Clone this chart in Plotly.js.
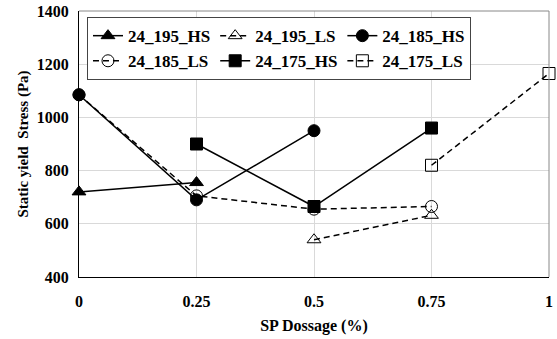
<!DOCTYPE html>
<html><head><meta charset="utf-8">
<script src="https://cdn.plot.ly/plotly-3.0.1.min.js"></script>
<style>html,body{margin:0;padding:0;background:#fff}#c{width:557px;height:339px}</style>
</head><body><div id="c"></div>
<script>
const names = ["24_195_HS","24_195_LS","24_185_HS","24_185_LS","24_175_HS","24_175_LS"];
const x195HS = [0, 0.25];           const y195HS = [720, 755];
const x195LS = [0.5, 0.75];         const y195LS = [540, 632];
const x185HS = [0, 0.25, 0.5];      const y185HS = [1085, 690, 950];
const x185LS = [0, 0.25, 0.5, 0.75];const y185LS = [1085, 705, 655, 665];
const x175HS = [0.25, 0.5, 0.75];   const y175HS = [900, 665, 960];
const x175LS = [0.75, 1];           const y175LS = [820, 1165];
const xTicks = [0, 0.25, 0.5, 0.75, 1];
const xTickLabels = ["0", "0.25", "0.5", "0.75", "1"];

function tr(x, y, name, symbol, dash) {
  return {x: x, y: y, name: name, type: "scatter", mode: "lines+markers",
    line: {color: "black", width: 1.5, dash: dash},
    marker: {symbol: symbol, size: 12, color: "black",
             line: {color: "black", width: 1}}, cliponaxis: false};
}
const DASH = "6px,4px";
const data = [
  tr(x195HS, y195HS, names[0], "triangle-up", "solid"),
  tr(x195LS, y195LS, names[1], "triangle-up-open", DASH),
  tr(x185HS, y185HS, names[2], "circle", "solid"),
  tr(x185LS, y185LS, names[3], "circle-open", DASH),
  tr(x175HS, y175HS, names[4], "square", "solid"),
  tr(x175LS, y175LS, names[5], "square-open", DASH)
];
const FAM = "Liberation Serif";
const layout = {
  width: 557, height: 339,
  margin: {l: 79, r: 8, t: 11, b: 62},
  paper_bgcolor: "white", plot_bgcolor: "white",
  showlegend: true,
  legend: {x: 0.017, y: 0.977, xanchor: "left", yanchor: "top", orientation: "h",
    bordercolor: "#444", borderwidth: 1, bgcolor: "white",
    font: {family: FAM, size: 17, color: "black", weight: "bold"}},
  xaxis: {range: [0, 1], tickvals: xTicks, ticktext: xTickLabels,
    showgrid: true, gridcolor: "#d9d9d9", zeroline: false,
    showline: true, linecolor: "black", linewidth: 1, mirror: false,
    ticks: "", ticklabelstandoff: 10,
    tickfont: {family: FAM, size: 16, color: "black", weight: "bold"},
    title: {text: "SP Dossage (%)", standoff: 10, font: {family: FAM, size: 16, color: "black", weight: "bold"}}},
  yaxis: {range: [400, 1400], dtick: 200,
    showgrid: true, gridcolor: "#d9d9d9", zeroline: false,
    showline: true, linecolor: "black", linewidth: 1,
    ticks: "", ticklabelstandoff: 6,
    tickfont: {family: FAM, size: 16, color: "black", weight: "bold"},
    title: {text: "Static yield  Stress (Pa)", standoff: 4, font: {family: FAM, size: 15, color: "black", weight: "bold"}}},
  shapes: [
    {type: "line", xref: "paper", yref: "paper", x0: 0, x1: 1, y0: 1, y1: 1, line: {color: "#888", width: 1}},
    {type: "line", xref: "paper", yref: "paper", x0: 1, x1: 1, y0: 0, y1: 1, line: {color: "#888", width: 1}}
  ]
};
Plotly.newPlot("c", data, layout, {displayModeBar: false, staticPlot: true});
</script></body></html>
